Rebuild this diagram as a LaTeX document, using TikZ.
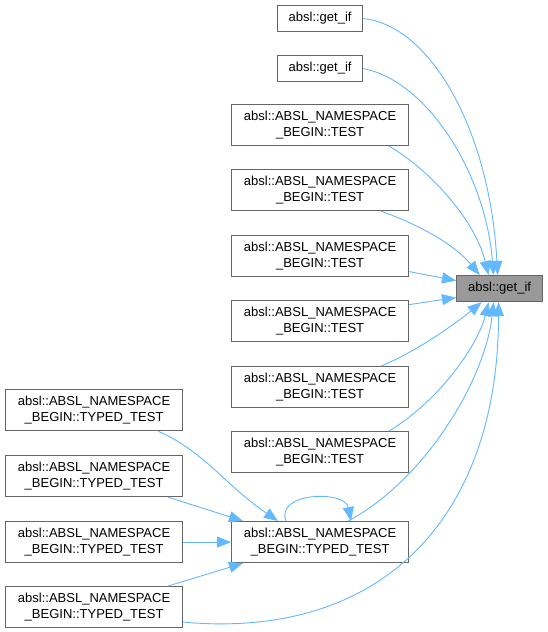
\documentclass[tikz,border=0pt]{standalone}
\usepackage{fontspec}
\setmainfont{Liberation Sans}
\usetikzlibrary{arrows.meta,calc}
\definecolor{edgeblue}{HTML}{63B8FF}
\definecolor{boxgray}{HTML}{666666}
\definecolor{tgfill}{HTML}{999999}
\begin{document}
\begin{tikzpicture}[x=1pt,y=-1pt,
  box/.style={draw=boxgray,line width=1.2pt,fill=white,anchor=north west,inner sep=0pt,align=center,
    font=\fontsize{13}{16}\selectfont},
  wide/.style={box,minimum width=177pt,minimum height=41pt},
  small/.style={box,minimum width=85pt,minimum height=26pt},
  call/.style={draw=edgeblue,line width=0.9pt,-{Triangle[length=14pt,width=11pt]}}]
\useasboundingbox (0,0) rectangle (547,632);
\fill[white] (0,0) rectangle (547,632);

\node[small] (g1) at (277,5) {absl::get\_if};
\node[small] (g2) at (277,55) {absl::get\_if};
\node[wide] (t1) at (231,104) {absl::ABSL\_NAMESPACE\\\_BEGIN::TEST};
\node[wide] (t2) at (231,169) {absl::ABSL\_NAMESPACE\\\_BEGIN::TEST};
\node[wide] (t3) at (231,235) {absl::ABSL\_NAMESPACE\\\_BEGIN::TEST};
\node[wide] (t4) at (231,300) {absl::ABSL\_NAMESPACE\\\_BEGIN::TEST};
\node[wide] (t5) at (231,366) {absl::ABSL\_NAMESPACE\\\_BEGIN::TEST};
\node[wide] (t6) at (231,431) {absl::ABSL\_NAMESPACE\\\_BEGIN::TEST};
\node[wide] (c) at (231,521) {absl::ABSL\_NAMESPACE\\\_BEGIN::TYPED\_TEST};
\node[wide] (y1) at (5,389) {absl::ABSL\_NAMESPACE\\\_BEGIN::TYPED\_TEST};
\node[wide] (y2) at (5,455) {absl::ABSL\_NAMESPACE\\\_BEGIN::TYPED\_TEST};
\node[wide] (y3) at (5,521) {absl::ABSL\_NAMESPACE\\\_BEGIN::TYPED\_TEST};
\node[wide] (y4) at (5,586) {absl::ABSL\_NAMESPACE\\\_BEGIN::TYPED\_TEST};
\node[small,fill=tgfill,minimum width=86pt] (tg) at (456,275) {absl::get\_if};

\draw[call] (g1.east) .. controls (430,25) and (490,130) .. ([xshift=-2pt]tg.north);
\draw[call] (g2.east) .. controls (425,80) and (485,170) .. ([xshift=-6pt]tg.north);
\draw[call] ([xshift=-20pt]t1.south east) .. controls (430,170) and (475,220) .. ([xshift=-11pt]tg.north);
\draw[call] ([xshift=-28pt]t2.south east) .. controls (420,225) and (455,245) .. ([xshift=-20pt]tg.north);
\draw[call] ([yshift=-15.5pt]t3.east) -- ([yshift=8pt]tg.west);
\draw[call] ([yshift=16.5pt]t4.east) -- ([yshift=-9pt]tg.west);
\draw[call] ([xshift=-28pt]t5.north east) .. controls (420,350) and (460,320) .. ([xshift=-18pt]tg.south);
\draw[call] ([xshift=-20pt]t6.north east) .. controls (440,400) and (478,345) .. ([xshift=-11pt]tg.south);
\draw[call] ([xshift=-61pt]c.north east) .. controls (425,480) and (485,380) .. ([xshift=-6pt]tg.south);
\draw[call] ([yshift=-15pt]y4.east) .. controls (380,640) and (498,520) .. ([xshift=-1pt]tg.south);

\draw[call] ([xshift=-25pt]y1.south east) .. controls (205,452) and (225,485) .. ([xshift=47pt]c.north west);
\draw[call] ([xshift=-15pt]y2.south east) -- ([xshift=12pt]c.north west);
\draw[call] (y3.east) -- (c.west);
\draw[call] ([xshift=-15pt]y4.north east) -- ([xshift=12pt]c.south west);
\draw[call] ([xshift=55pt]c.north west) .. controls (275,492) and (345,490) .. ([xshift=120pt]c.north west);
\end{tikzpicture}
\end{document}
